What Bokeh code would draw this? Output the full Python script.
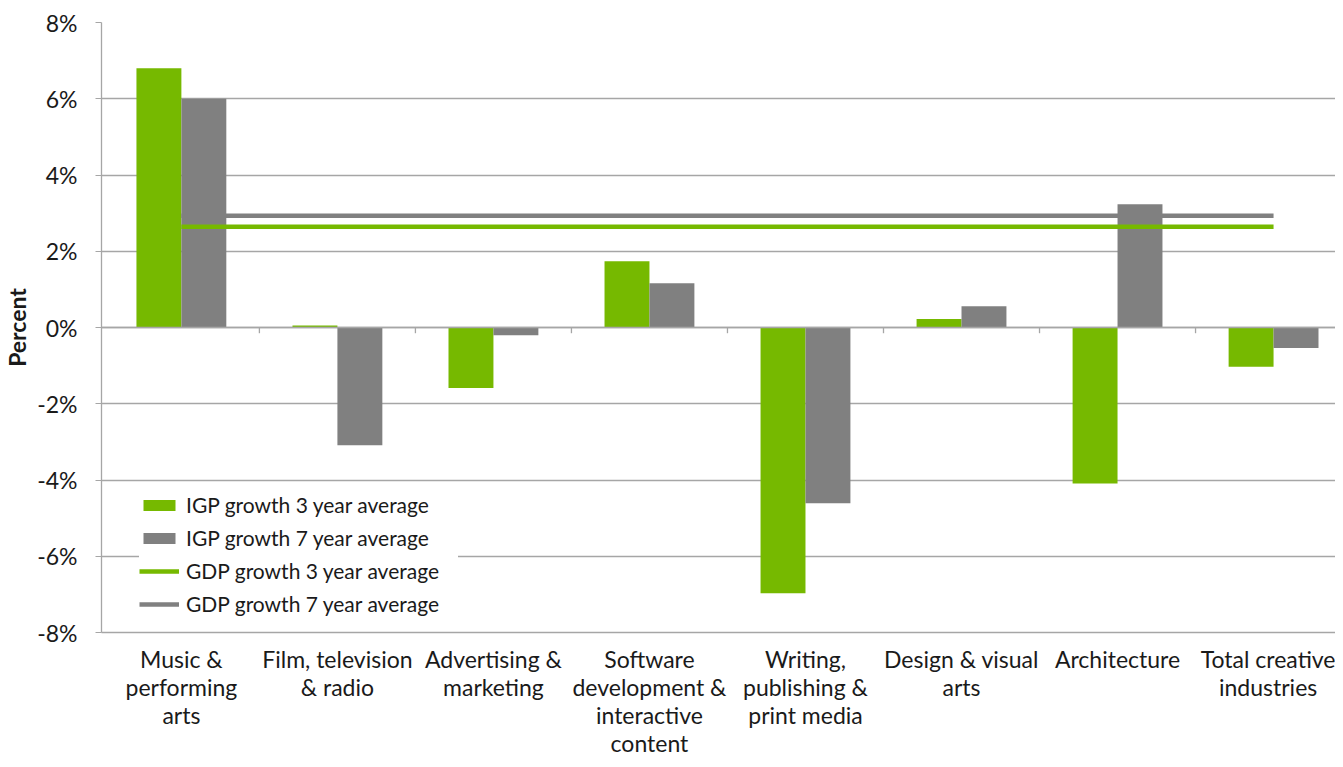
from bokeh.plotting import figure
from bokeh.models import Range1d, FixedTicker, Legend, LegendItem, ColumnDataSource, Span
from bokeh.transform import dodge
from bokeh.embed import file_html
from bokeh.resources import INLINE

categories = [
    "Music &\nperforming\narts",
    "Film, television\n& radio",
    "Advertising &\nmarketing",
    "Software\ndevelopment &\ninteractive\ncontent",
    "Writing,\npublishing &\nprint media",
    "Design & visual\narts",
    "Architecture",
    "Total creative\nindustries",
]
igp_3yr = [6.80, 0.05, -1.59, 1.74, -6.97, 0.22, -4.09, -1.03]
igp_7yr = [6.00, -3.09, -0.20, 1.16, -4.61, 0.56, 3.23, -0.54]
gdp_3yr = 2.64
gdp_7yr = 2.93
y_ticks = [-8, -6, -4, -2, 0, 2, 4, 6, 8]

GREEN = "#76B900"
GRAY = "#808080"
GRID = "#A6A6A6"
TEXT = "#1a1a1a"
FONT = "Lato"

n = len(categories)
idx = list(range(n))
src = ColumnDataSource(dict(x=idx, g3=igp_3yr, g7=igp_7yr))

p = figure(width=1335, height=759, output_backend="svg", toolbar_location=None,
           x_range=Range1d(-0.512, 7.397), y_range=Range1d(-8, 8),
           min_border_left=100, min_border_right=0, min_border_top=22, min_border_bottom=127)
p.outline_line_color = None
p.background_fill_color = "white"
p.border_fill_color = "white"
p.xgrid.visible = False
p.ygrid.grid_line_color = GRID
p.ygrid.grid_line_width = 1.3
p.ygrid.ticker = FixedTicker(ticks=y_ticks)

bw = 0.288
r3 = p.vbar(x=dodge("x", -bw / 2, range=p.x_range), top="g3", bottom=0, width=bw,
            source=src, fill_color=GREEN, line_color=None)
r7 = p.vbar(x=dodge("x", bw / 2, range=p.x_range), top="g7", bottom=0, width=bw,
            source=src, fill_color=GRAY, line_color=None)

# zero axis line with tick marks between categories
p.add_layout(Span(location=0, dimension="width", line_color=GRID, line_width=1.3))
p.segment(x0=[i + 0.5 for i in idx[:-1]], x1=[i + 0.5 for i in idx[:-1]],
          y0=[0] * (n - 1), y1=[-0.15] * (n - 1), line_color=GRID, line_width=1.3)

l3 = p.line(x=[idx[0], idx[-1]], y=[gdp_3yr, gdp_3yr], line_color=GREEN, line_width=4.5)
l7 = p.line(x=[idx[0], idx[-1]], y=[gdp_7yr, gdp_7yr], line_color=GRAY, line_width=4.5)

# y axis
ya = p.yaxis[0]
ya.ticker = FixedTicker(ticks=y_ticks)
ya.major_label_overrides = {t: f"{t}%" for t in y_ticks}
ya.major_label_text_font = FONT
ya.major_label_text_font_size = "23px"
ya.major_label_text_color = TEXT
ya.major_label_standoff = 18
ya.axis_line_color = GRID
ya.axis_line_width = 1.3
ya.major_tick_line_color = GRID
ya.major_tick_out = 6
ya.major_tick_in = 0
ya.minor_tick_line_color = None
ya.axis_label = "Percent"
ya.axis_label_text_font = FONT
ya.axis_label_text_font_style = "bold"
ya.axis_label_text_font_size = "23px"
ya.axis_label_text_color = TEXT
ya.axis_label_standoff = 3

# x axis (category labels at bottom)
xa = p.xaxis[0]
xa.ticker = FixedTicker(ticks=idx)
xa.major_label_overrides = {i: c for i, c in zip(idx, categories)}
xa.major_label_text_font = FONT
xa.major_label_text_font_size = "23px"
xa.major_label_text_color = TEXT
xa.major_label_text_line_height = 1.0
xa.major_label_standoff = 6
xa.axis_line_color = GRID
xa.axis_line_width = 1.3
xa.major_tick_line_color = None
xa.minor_tick_line_color = None

legend = Legend(items=[
    LegendItem(label="IGP growth 3 year average", renderers=[r3]),
    LegendItem(label="IGP growth 7 year average", renderers=[r7]),
    LegendItem(label="GDP growth 3 year average", renderers=[l3]),
    LegendItem(label="GDP growth 7 year average", renderers=[l7]),
], location=(38, 16))
legend.label_text_font = FONT
legend.label_text_font_size = "21px"
legend.label_text_color = TEXT
legend.glyph_width = 40
legend.glyph_height = 14
legend.label_standoff = 7
legend.label_width = 272
legend.spacing = 8
legend.padding = 8
legend.border_line_color = None
legend.background_fill_color = "white"
legend.background_fill_alpha = 1.0
p.add_layout(legend, "center")

open("out.html", "w").write(file_html(p, INLINE))
